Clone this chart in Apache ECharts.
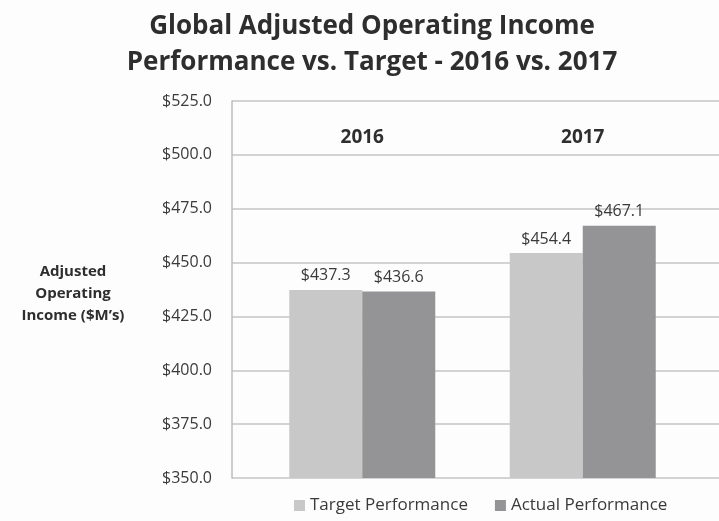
<!DOCTYPE html>
<html>
<head>
<meta charset="utf-8">
<script src="https://cdn.jsdelivr.net/npm/echarts@6/dist/echarts.min.js"></script>
<style>
html,body{margin:0;padding:0;background:#fdfdfd;}
#chart{width:719px;height:521px;}
</style>
</head>
<body>
<div id="chart"></div>
<script>
var categories = ['2016', '2017'];
var targetValues = [437.3, 454.4];
var actualValues = [436.6, 467.1];
var seriesNames = ['Target Performance', 'Actual Performance'];
var yMin = 350, yMax = 525, yStep = 25;

var FONT = '"Open Sans", sans-serif';
var chart = echarts.init(document.getElementById('chart'));
function money(v) { return '$' + Number(v).toFixed(1); }

chart.setOption({
  backgroundColor: '#fdfdfd',
  animation: false,
  title: [
    {
      text: 'Global Adjusted Operating Income\nPerformance vs. Target - 2016 vs. 2017',
      left: 367, top: 4, textAlign: 'center',
      textStyle: { fontFamily: FONT, fontWeight: 'bold', fontSize: 26, lineHeight: 36, color: '#2e2e2e' }
    },
    {
      text: 'Adjusted\nOperating\nIncome ($M\u2019s)',
      left: 68, top: 256, textAlign: 'center',
      textStyle: { fontFamily: FONT, fontWeight: 'bold', fontSize: 15, lineHeight: 22, color: '#2e2e2e' }
    }
  ],
  legend: {
    bottom: 2, left: 289, itemWidth: 11, itemHeight: 11, itemGap: 27,
    icon: 'rect',
    data: seriesNames,
    textStyle: { fontFamily: FONT, fontSize: 17, color: '#3a3a3a' }
  },
  grid: [
    { left: 232, right: 0, top: 101, height: 377 },
    { left: 252, width: 441, top: 101, height: 377 }
  ],
  xAxis: [
    { type: 'category', gridIndex: 0, data: categories, show: false },
    {
      type: 'category', gridIndex: 1, data: categories, position: 'top',
      axisLine: { show: false }, axisTick: { show: false },
      axisLabel: { inside: true, margin: 27, fontFamily: FONT, fontWeight: 'bold', fontSize: 19, color: '#2e2e2e' }
    }
  ],
  yAxis: [
    {
      type: 'value', gridIndex: 0, min: yMin, max: yMax, interval: yStep,
      axisLine: { show: true, lineStyle: { color: '#bdbdbd', width: 1.5 } },
      axisTick: { show: false },
      splitLine: { lineStyle: { color: '#c4c4c4', width: 1.5 } },
      axisLabel: { margin: 20, formatter: money, fontFamily: FONT, fontSize: 16, color: '#3a3a3a' }
    },
    { type: 'value', gridIndex: 1, min: yMin, max: yMax, interval: yStep, show: false }
  ],
  series: [
    {
      name: seriesNames[0], type: 'bar', xAxisIndex: 1, yAxisIndex: 1,
      data: targetValues, barWidth: 73, barGap: '0%',
      itemStyle: { color: '#c8c8c9' },
      label: { show: true, position: 'top', distance: 6, formatter: function (p) { return money(p.value); },
        fontFamily: FONT, fontSize: 16, color: '#3a3a3a' }
    },
    {
      name: seriesNames[1], type: 'bar', xAxisIndex: 1, yAxisIndex: 1,
      data: actualValues, barWidth: 73, barGap: '0%',
      itemStyle: { color: '#949496' },
      label: { show: true, position: 'top', distance: 6, formatter: function (p) { return money(p.value); },
        fontFamily: FONT, fontSize: 16, color: '#3a3a3a' }
    }
  ]
});
</script>
</body>
</html>
